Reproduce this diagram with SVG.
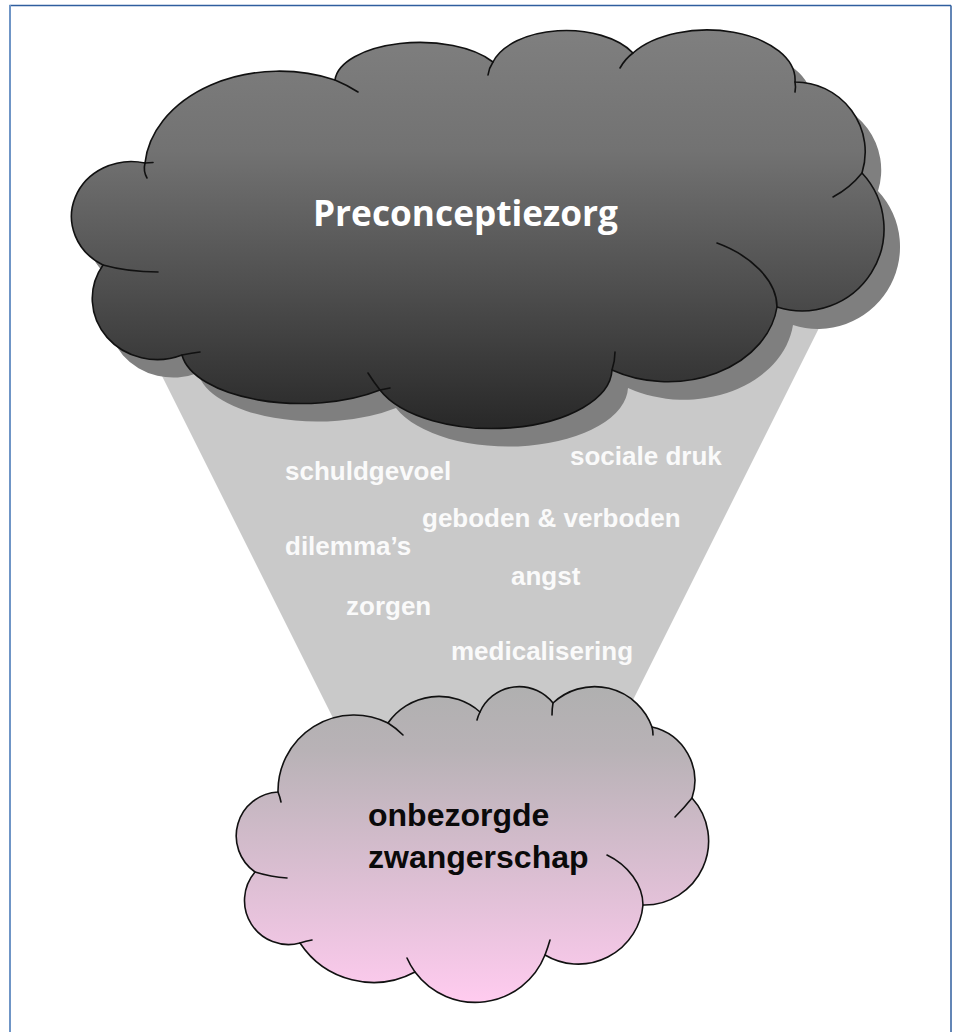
<svg xmlns="http://www.w3.org/2000/svg" width="957" height="1032" viewBox="0 0 957 1032">
  <defs>
    <linearGradient id="gradStorm" gradientUnits="userSpaceOnUse" x1="0" y1="32" x2="0" y2="428">
      <stop offset="0" stop-color="#7f7f7f"/>
      <stop offset="0.3" stop-color="#727272"/>
      <stop offset="0.65" stop-color="#4e4e4e"/>
      <stop offset="1" stop-color="#282828"/>
    </linearGradient>
    <linearGradient id="gradPink" gradientUnits="userSpaceOnUse" x1="0" y1="687" x2="0" y2="1002">
      <stop offset="0" stop-color="#b0b0b0"/>
      <stop offset="0.2" stop-color="#b8b2b6"/>
      <stop offset="1" stop-color="#ffcbef"/>
    </linearGradient>
    <path id="stormShape" d="M103,265 A60,55 0 0 1 145,163 A135,100 0 0 1 335,80 A85,40 0 0 1 493,62 A76,43 0 0 1 633,53 A88,50 0 0 1 795,82 A70,70 0 0 1 862,173 A82,82 0 0 1 777,307 A110,85 0 0 1 612,370 A120,60 0 0 1 380,390 A120,55 0 0 1 182,355 A65,61 0 0 1 103,265 Z"/>
  </defs>
  <style>
    .outline { stroke: #111; stroke-width: 1.6; stroke-linejoin: round; }
    .tail { fill: none; stroke: #111; stroke-width: 1.6; stroke-linecap: round; }
    .word { font-family: "Liberation Sans", Arial, sans-serif; font-weight: bold; font-size: 26px; fill: #fafafa; }
    .title { font-family: "Open Sans", "Noto Sans", sans-serif; font-weight: bold; font-size: 36.5px; fill: #ffffff; }
    .goal { font-family: "Liberation Sans", Arial, sans-serif; font-weight: bold; font-size: 32px; fill: #0a0a0a; }
  </style>

  <rect width="957" height="1032" fill="#ffffff"/>

  <!-- page frame -->
  <g id="frame">
    <line x1="9.5" y1="5.5" x2="951" y2="5.5" stroke="#2f5e9e" stroke-width="1.5"/>
    <line x1="951" y1="5.5" x2="951" y2="1032" stroke="#2f5e9e" stroke-width="1.5"/>
    <line x1="10" y1="5" x2="10" y2="1032" stroke="#6f95c6" stroke-width="2"/>
  </g>

  <!-- light beam between the two clouds -->
  <g id="connectors">
    <polygon id="funnel" points="124,300 833,300 613,740 344,740" fill="#c9c9c9"/>
  </g>

  <!-- dark cloud with drop shadow -->
  <g id="cloud-preconceptiezorg">
    <use href="#stormShape" transform="translate(16,18)" fill="#7f7f7f"/>
    <use href="#stormShape" class="outline" fill="url(#gradStorm)"/>
    <path class="tail" d="M145,163 Q143,171 147,178"/>
    <path class="tail" d="M145,163 Q149,162.5 153,162.5"/>
    <path class="tail" d="M335,80 Q347,85 358,92"/>
    <path class="tail" d="M493,62 Q489,68 488,75"/>
    <path class="tail" d="M633,53 Q625,59 620,68"/>
    <path class="tail" d="M795,82 Q796,87 795,92"/>
    <path class="tail" d="M862,173 Q850,188 833,197"/>
    <path class="tail" d="M777,307 C777,280 750,255 717,243"/>
    <path class="tail" d="M612,370 Q615,361 615,352"/>
    <path class="tail" d="M380,390 Q373,381 368,373"/>
    <path class="tail" d="M380,390 L390,388"/>
    <path class="tail" d="M182,355 Q192,353 200,352"/>
    <path class="tail" d="M103,265 Q128,272 158,272"/>
    <text class="title" x="313" y="226" textLength="305" lengthAdjust="spacingAndGlyphs">Preconceptiezorg</text>
  </g>

  <!-- words inside the beam -->
  <g id="labels">
    <text class="word" x="285" y="480">schuldgevoel</text>
    <text class="word" x="570" y="465">sociale druk</text>
    <text class="word" x="422" y="527">geboden &amp; verboden</text>
    <text class="word" x="285" y="555">dilemma’s</text>
    <text class="word" x="511" y="585">angst</text>
    <text class="word" x="346" y="615">zorgen</text>
    <text class="word" x="451" y="660">medicalisering</text>
  </g>

  <!-- pink cloud -->
  <g id="cloud-onbezorgde-zwangerschap">
    <path class="outline" fill="url(#gradPink)" d="M255,872 A44,44 0 0 1 278,792 A76,76 0 0 1 388,723 A62,62 0 0 1 480,712 A43,43 0 0 1 553,703 A61,61 0 0 1 652,727 A55,55 0 0 1 692,798 A64,64 0 0 1 643,905 A65,65 0 0 1 545,955 A75,75 0 0 1 415,972 A88,88 0 0 1 300,943 A44,44 0 0 1 255,872 Z"/>
    <path class="tail" d="M278,792 Q280,797 281,802"/>
    <path class="tail" d="M388,723 Q396,728 403,735"/>
    <path class="tail" d="M480,712 Q478,716 477,720"/>
    <path class="tail" d="M553,703 Q552,709 552,715"/>
    <path class="tail" d="M652,727 Q653,731 653,735"/>
    <path class="tail" d="M692,798 Q684,808 675,817"/>
    <path class="tail" d="M643,905 C643,885 628,865 607,855"/>
    <path class="tail" d="M545,955 Q548,947 550,940"/>
    <path class="tail" d="M415,972 Q410,965 407,958"/>
    <path class="tail" d="M300,943 Q306,941 312,940"/>
    <path class="tail" d="M255,872 Q271,877 287,878"/>
    <text class="goal" x="368" y="826">onbezorgde</text>
    <text class="goal" x="368" y="868">zwangerschap</text>
  </g>
</svg>
